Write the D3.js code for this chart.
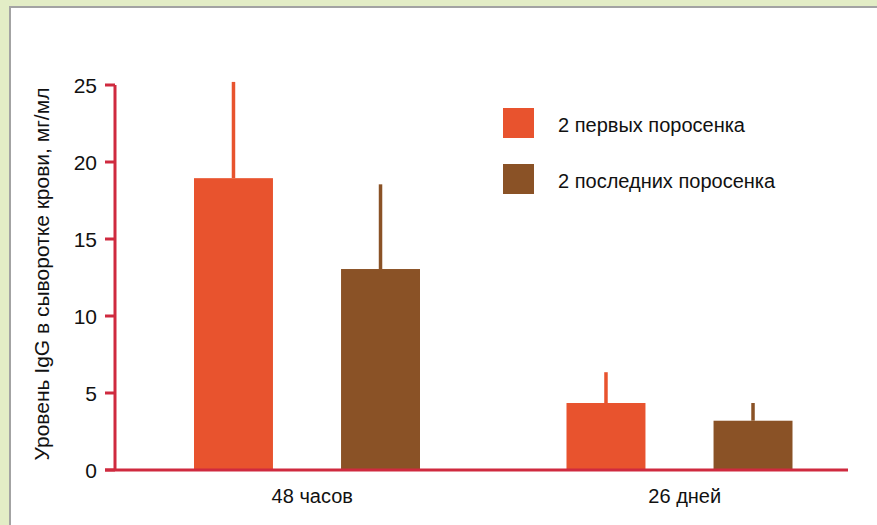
<!DOCTYPE html>
<html>
<head>
<meta charset="utf-8">
<script src="https://cdn.jsdelivr.net/npm/d3@7"></script>
<style>
  html, body { margin: 0; padding: 0; background: #e3edc6; }
  svg { display: block; font-family: "Liberation Sans", Arial, sans-serif; }
</style>
</head>
<body>
<svg id="chart" width="877" height="525"></svg>
<script>
// data
const groups = ["48 часов", "26 дней"];
const series = ["2 первых поросенка", "2 последних поросенка"];
const firstValues = [18.95, 4.35];
const firstErrors = [6.25, 2.0];
const lastValues = [13.05, 3.2];
const lastErrors = [5.5, 1.15];
const yTicks = [0, 5, 10, 15, 20, 25];
const colors = ["#e8532e", "#8a5226"];

const rows = [];
groups.forEach((g, i) => {
  rows.push({ group: g, series: series[0], value: firstValues[i], err: firstErrors[i] });
  rows.push({ group: g, series: series[1], value: lastValues[i], err: lastErrors[i] });
});

const svg = d3.select("#chart");

// white panel with grey edge
svg.append("rect")
  .attr("x", 10).attr("y", 7)
  .attr("width", 900).attr("height", 560)
  .attr("fill", "#fff")
  .attr("stroke", "#a3a3a3")
  .attr("stroke-width", 2);

const axisLeft = 115, axisBottom = 470;

const y = d3.scaleLinear().domain([0, 25]).range([axisBottom, 85]);

const x0 = d3.scaleBand().domain(groups).range([121, 866]).padding(0);
const x1 = d3.scaleBand().domain(series).range([73, 299]).paddingInner(0.463).paddingOuter(0);
const color = d3.scaleOrdinal().domain(series).range(colors);

const axisColor = "#cf2a3f";

// error bars (drawn first, bars cover their base)
svg.append("g").selectAll("line")
  .data(rows)
  .join("line")
    .attr("x1", d => x0(d.group) + x1(d.series) + x1.bandwidth() / 2)
    .attr("x2", d => x0(d.group) + x1(d.series) + x1.bandwidth() / 2)
    .attr("y1", d => y(d.value))
    .attr("y2", d => y(d.value + d.err))
    .attr("stroke", d => color(d.series))
    .attr("stroke-width", 3.5);

// bars
svg.append("g").selectAll("rect")
  .data(rows)
  .join("rect")
    .attr("x", d => x0(d.group) + x1(d.series))
    .attr("y", d => y(d.value))
    .attr("width", x1.bandwidth())
    .attr("height", d => y(0) - y(d.value))
    .attr("fill", d => color(d.series));

// y axis
svg.append("line")
  .attr("x1", axisLeft).attr("x2", axisLeft)
  .attr("y1", y(25)).attr("y2", axisBottom)
  .attr("stroke", axisColor).attr("stroke-width", 3);

svg.append("g").selectAll("line")
  .data(yTicks)
  .join("line")
    .attr("x1", axisLeft - 10).attr("x2", axisLeft)
    .attr("y1", d => y(d)).attr("y2", d => y(d))
    .attr("stroke", axisColor).attr("stroke-width", 3);

svg.append("g").selectAll("text")
  .data(yTicks)
  .join("text")
    .attr("x", 97)
    .attr("y", d => y(d))
    .attr("dy", "0.36em")
    .attr("text-anchor", "end")
    .attr("font-size", 21)
    .attr("fill", "#111")
    .text(d => d);

// x axis
svg.append("line")
  .attr("x1", axisLeft - 10).attr("x2", 848)
  .attr("y1", axisBottom).attr("y2", axisBottom)
  .attr("stroke", axisColor).attr("stroke-width", 3);

svg.append("g").selectAll("text")
  .data(groups)
  .join("text")
    .attr("x", d => x0(d) + x0.bandwidth() / 2 + 5)
    .attr("y", 503)
    .attr("text-anchor", "middle")
    .attr("font-size", 20)
    .attr("fill", "#111")
    .text(d => d);

// y title
svg.append("text")
  .attr("transform", "translate(49,274) rotate(-90)")
  .attr("text-anchor", "middle")
  .attr("font-size", 21)
  .attr("fill", "#111")
  .text("Уровень IgG в сыворотке крови, мг/мл");

// legend
const legend = svg.append("g").selectAll("g")
  .data(series)
  .join("g")
    .attr("transform", (d, i) => `translate(503,${108 + i * 56})`);

legend.append("rect")
  .attr("width", 31).attr("height", 30)
  .attr("fill", d => color(d));

legend.append("text")
  .attr("x", 55)
  .attr("y", 24)
  .attr("font-size", 20)
  .attr("fill", "#111")
  .text(d => d);
</script>
</body>
</html>
